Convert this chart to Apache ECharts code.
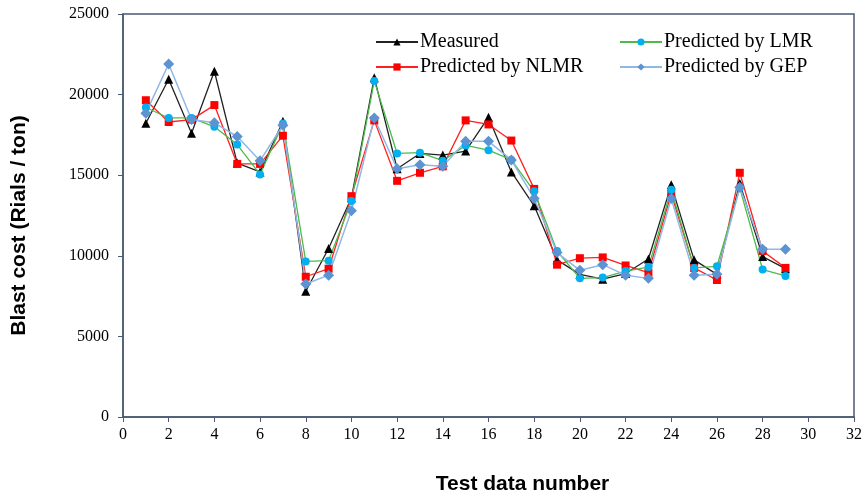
<!DOCTYPE html>
<html><head><meta charset="utf-8">
<script src="https://cdn.jsdelivr.net/npm/echarts@6/dist/echarts.min.js"></script>
<style>html,body{margin:0;padding:0;background:#fff}#c{width:867px;height:495px}</style>
</head><body><div id="c"></div>
<script>
const testNo = [1,2,3,4,5,6,7,8,9,10,11,12,13,14,15,16,17,18,19,20,21,22,23,24,25,26,27,28,29];
const measured = [18220,20950,17600,21450,15750,15200,18350,7800,10450,13600,21050,15400,16350,16250,16500,18600,15200,13100,9750,8850,8550,8900,9800,14400,9750,8850,14500,9950,9200];
const nlmr = [19650,18300,18450,19350,15700,15700,17450,8700,9200,13700,18400,14650,15150,15550,18400,18150,17150,14150,9450,9850,9900,9400,8950,13850,9250,8500,15150,10300,9250];
const lmr = [19200,18550,18550,18000,16900,15050,18200,9650,9700,13400,20850,16350,16400,15900,16850,16550,15950,14000,10300,8600,8650,9050,9300,14100,9250,9350,14200,9150,8750];
const gep = [18850,21900,18450,18250,17400,15900,18100,8250,8800,12800,18550,15400,15650,15550,17100,17100,15950,13550,10200,9100,9450,8800,8600,13550,8800,8850,14250,10400,10400];
const xTicks = {min:0, max:32, interval:2};
const yTicks = {min:0, max:25000, interval:5000};

const pair = a => a.map((v,i)=>[testNo[i], v]);
const serif = '"Liberation Serif","Times New Roman",serif';
const sans = '"Liberation Sans",Arial,sans-serif';
const chart = echarts.init(document.getElementById('c'));
const legendBase = {itemWidth:42, itemHeight:9, itemGap:0, textStyle:{fontFamily:serif, fontSize:20, color:'#000', padding:[0,0,0,-3]}};
chart.setOption({
  animation:false,
  grid:{left:123, right:13, top:14, bottom:78, show:true, borderColor:'#4a5a70', borderWidth:1.5, backgroundColor:'#fff', outerBoundsMode:'none', containLabel:false},
  legend:[
    Object.assign({data:['Measured'], left:370, top:27}, legendBase),
    Object.assign({data:['Predicted by NLMR'], left:370, top:52}, legendBase),
    Object.assign({data:['Predicted by LMR'], left:614, top:27}, legendBase),
    Object.assign({data:['Predicted by GEP'], left:614, top:52}, legendBase)
  ],
  xAxis:{type:'value', min:xTicks.min, max:xTicks.max, interval:xTicks.interval,
    name:'Test data number', nameLocation:'middle', nameGap:57,
    nameTextStyle:{fontFamily:sans, fontWeight:'bold', fontSize:21, color:'#000', padding:[0,0,0,68]},
    axisLine:{lineStyle:{color:'#4a5a70', width:1.5}},
    axisTick:{show:true, length:5, lineStyle:{color:'#4a5a70'}},
    axisLabel:{fontFamily:serif, fontSize:16, color:'#000', margin:10},
    splitLine:{show:false}},
  yAxis:{type:'value', min:yTicks.min, max:yTicks.max, interval:yTicks.interval,
    name:'Blast cost (Rials / ton)', nameLocation:'middle', nameGap:93,
    nameTextStyle:{fontFamily:sans, fontWeight:'bold', fontSize:21, color:'#000', padding:[0,20,0,0]},
    axisLine:{show:true, lineStyle:{color:'#4a5a70', width:1.5}},
    axisTick:{show:true, length:5, lineStyle:{color:'#4a5a70'}},
    axisLabel:{fontFamily:serif, fontSize:16, color:'#000', margin:14, formatter:v=>String(v)},
    splitLine:{show:false}},
  series:[
    {name:'Measured', type:'line', data:pair(measured), symbol:'triangle', symbolSize:9,
      lineStyle:{color:'#222', width:1.3}, itemStyle:{color:'#000'}},
    {name:'Predicted by NLMR', type:'line', data:pair(nlmr), symbol:'rect', symbolSize:8,
      lineStyle:{color:'#ff2020', width:1.3}, itemStyle:{color:'#ff0000'}},
    {name:'Predicted by LMR', type:'line', data:pair(lmr), symbol:'circle', symbolSize:8,
      lineStyle:{color:'#4cbb4c', width:1.3}, itemStyle:{color:'#00b0f0'}},
    {name:'Predicted by GEP', type:'line', data:pair(gep), symbol:'diamond', symbolSize:11,
      lineStyle:{color:'#8fb8e6', width:1.5}, itemStyle:{color:'#5b93d3'}}
  ]
});
</script></body></html>
